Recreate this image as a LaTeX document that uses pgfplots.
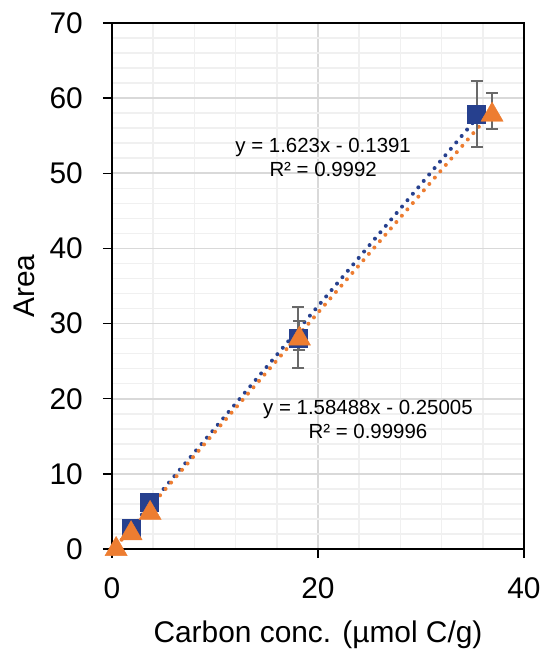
\documentclass[border=0pt]{standalone}
\usepackage{fontspec}
\setmainfont{Liberation Sans}
\usepackage{pgfplots}
\pgfplotsset{compat=1.18}

\definecolor{serblue}{RGB}{38,64,142}
\definecolor{serorange}{RGB}{237,125,49}
\definecolor{majgrid}{RGB}{217,217,217}
\definecolor{mingrid}{RGB}{240,240,240}
\definecolor{errgray}{RGB}{105,105,105}

\begin{document}
\begin{tikzpicture}
\useasboundingbox (0,0) rectangle (544bp,649bp);
\begin{axis}[
    at={(112bp,100bp)}, anchor=south west,
    width=412bp, height=526bp, scale only axis,
    xmin=0, xmax=40, ymin=0, ymax=70,
    xtick={0,20,40}, ytick={0,10,...,70},
    minor x tick num=4, minor y tick num=4,
    grid=both,
    major grid style={majgrid, line width=1.6bp},
    minor grid style={mingrid, line width=1.6bp},
    minor tick length=0pt,
    major tick length=9bp,
    tick align=outside,
    xtick pos=left, ytick pos=left,
    tick style={black, line width=1.4bp},
    axis line style={black, line width=2.4bp},
    /pgf/number format/assume math mode=true,
    ticklabel style={font=\fontsize{30}{36}\selectfont},
    xticklabel style={anchor=base, yshift=-40bp},
    yticklabel style={anchor=east, inner sep=0pt, xshift=-20bp},
    xlabel={Carbon conc. (µmol C/g)},
    ylabel={Area},
    label style={font=\fontsize{30}{36}\selectfont},
    xlabel style={at={(axis description cs:0.5,-0.1787)}, anchor=base},
    ylabel style={at={(axis description cs:-0.1893,0.5)}, anchor=base},
    clip=false,
  ]
  % markers
  \addplot[only marks, mark=square*, mark size=9bp, color=serblue]
    coordinates {(1.85,2.8) (3.6,6.2) (18.1,28.1) (35.4,57.9)};
  \addplot[only marks, mark=triangle*, mark size=12.8bp, color=serorange,
    mark options={yshift=-3.2bp}]
    coordinates {(0.4,0.4) (1.85,2.5) (3.7,5.2) (18.2,28.4) (36.9,58.2)};
  % trendlines (endpoints of the fitted lines)
  \addplot[serblue, line width=4bp, line cap=round, dash pattern=on 0pt off 8.4bp, mark=none]
    coordinates {(1.85,2.864) (35.4,57.315)};
  \addplot[serorange, line width=4bp, line cap=round, dash pattern=on 0pt off 8.4bp, mark=none]
    coordinates {(0.4,0.384) (36.9,58.230)};
  % error bars
  \addplot[draw=none, mark=none, forget plot,
    error bars/.cd, y dir=both, y explicit,
    error bar style={errgray, line width=2bp, draw=errgray},
    error mark options={rotate=90, mark size=6bp, errgray, line width=2bp}]
    coordinates {(18.1,28.1) +- (0,4.05) (35.4,57.9) +- (0,4.4)};
  \addplot[draw=none, mark=none, forget plot,
    error bars/.cd, y dir=both, y explicit,
    error bar style={errgray, line width=2bp, draw=errgray},
    error mark options={rotate=90, mark size=6bp, errgray, line width=2bp}]
    coordinates {(18.2,28.4) +- (0,1.95) (36.9,58.3) +- (0,2.4)};
  \node[align=center, font=\fontsize{20.5}{24}\selectfont] at (axis cs:20.5,52.1)
    {y = 1.623x - 0.1391\\R² = 0.9992};
  \node[align=center, font=\fontsize{20.5}{24}\selectfont] at (axis cs:24.85,17.2)
    {y = 1.58488x - 0.25005\\R² = 0.99996};
\end{axis}
\end{tikzpicture}
\end{document}
